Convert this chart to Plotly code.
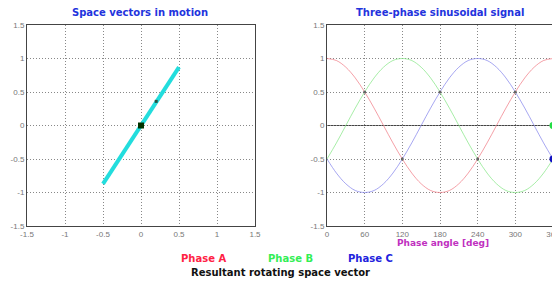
import plotly.graph_objects as go

# Space-vector panel
vec_x = [-0.5, 0.5]
vec_y = [-0.87, 0.87]
origin_x = [0]
origin_y = [0]
tip_x = [0.2]
tip_y = [0.36]

# Three-phase sinusoidal panel
angle = [0, 15, 30, 45, 60, 75, 90, 105, 120, 135, 150, 165, 180,
         195, 210, 225, 240, 255, 270, 285, 300, 315, 330, 345, 360]
phase_a = [1, 0.97, 0.87, 0.71, 0.5, 0.26, 0, -0.26, -0.5, -0.71, -0.87, -0.97, -1,
           -0.97, -0.87, -0.71, -0.5, -0.26, 0, 0.26, 0.5, 0.71, 0.87, 0.97, 1]
phase_b = [-0.5, -0.26, 0, 0.26, 0.5, 0.71, 0.87, 0.97, 1, 0.97, 0.87, 0.71, 0.5,
           0.26, 0, -0.26, -0.5, -0.71, -0.87, -0.97, -1, -0.97, -0.87, -0.71, -0.5]
phase_c = [-0.5, -0.71, -0.87, -0.97, -1, -0.97, -0.87, -0.71, -0.5, -0.26, 0, 0.26, 0.5,
           0.71, 0.87, 0.97, 1, 0.97, 0.87, 0.71, 0.5, 0.26, 0, -0.26, -0.5]
cross_x = [60, 180, 300, 120, 240]
cross_y = [0.5, 0.5, 0.5, -0.5, -0.5]
end_x = [360, 360]
end_y = [0, -0.5]
end_colors = ["#22dd44", "#1010c0"]

left_ticks = [-1.5, -1, -0.5, 0, 0.5, 1, 1.5]
left_ticktext = ["-1.5", "-1", "-0.5", "0", "0.5", "1", "1.5"]
angle_ticks = [0, 60, 120, 180, 240, 300, 360]

# page body has an 8px margin; figure is sized to fit the window
OFF = 8
W, H = 560 - OFF, 284 - OFF


def px(x):
    return (x - OFF) / W


def py(y):
    return 1 - (y - OFF) / H


fig = go.Figure()

fig.add_trace(go.Scatter(x=vec_x, y=vec_y, mode="lines",
                         line=dict(color="#22dddd", width=4),
                         xaxis="x", yaxis="y", showlegend=False))
fig.add_trace(go.Scatter(x=tip_x, y=tip_y, mode="markers",
                         marker=dict(color="#225544", size=3, symbol="square"),
                         xaxis="x", yaxis="y", showlegend=False))
fig.add_trace(go.Scatter(x=origin_x, y=origin_y, mode="markers",
                         marker=dict(color="#003300", size=6, symbol="square"),
                         xaxis="x", yaxis="y", showlegend=False))

fig.add_trace(go.Scatter(x=angle, y=phase_a, mode="lines", line_shape="spline",
                         line=dict(color="rgba(240,120,130,0.7)", width=1),
                         xaxis="x2", yaxis="y2", showlegend=False))
fig.add_trace(go.Scatter(x=angle, y=phase_b, mode="lines", line_shape="spline",
                         line=dict(color="rgba(130,230,130,0.7)", width=1),
                         xaxis="x2", yaxis="y2", showlegend=False))
fig.add_trace(go.Scatter(x=angle, y=phase_c, mode="lines", line_shape="spline",
                         line=dict(color="rgba(130,130,235,0.7)", width=1),
                         xaxis="x2", yaxis="y2", showlegend=False))
fig.add_trace(go.Scatter(x=cross_x, y=cross_y, mode="markers",
                         marker=dict(color="#666666", size=3),
                         xaxis="x2", yaxis="y2", showlegend=False))
fig.add_trace(go.Scatter(x=end_x, y=end_y, mode="markers", cliponaxis=False,
                         marker=dict(color=end_colors, size=7),
                         xaxis="x2", yaxis="y2", showlegend=False))

axis_common = dict(showgrid=True, gridcolor="#888888", griddash="1px,2px", gridwidth=1,
                   showline=True, linecolor="#444444", linewidth=1, mirror=True,
                   ticks="", tickfont=dict(family="Liberation Sans", size=8, color="#777777"),
                   zeroline=False, automargin=False, ticklabeloverflow="allow")

ydom = [py(226), py(25)]
fig.update_layout(
    width=W, height=H,
    margin=dict(l=0, r=0, t=0, b=0),
    paper_bgcolor="white", plot_bgcolor="white",
    xaxis=dict(domain=[px(27), px(255)], range=[-1.5, 1.5], tickvals=left_ticks,
               ticktext=left_ticktext, anchor="y", **axis_common),
    yaxis=dict(domain=ydom, range=[-1.5, 1.5], tickvals=left_ticks,
               ticktext=left_ticktext, anchor="x", **axis_common),
    xaxis2=dict(domain=[px(327), px(553)], range=[0, 360], tickvals=angle_ticks,
                anchor="y2", **axis_common),
    yaxis2=dict(domain=ydom, range=[-1.5, 1.5], tickvals=left_ticks,
                ticktext=left_ticktext, anchor="x2", **axis_common),
    shapes=[dict(type="line", xref="x2", yref="y2", x0=0, x1=360, y0=0, y1=0,
                 line=dict(color="#444444", width=1), layer="below")],
)

font_name = "DejaVu Sans"
ann = [
    dict(text="<b>Space vectors in motion</b>", x=140, y=13, color="#2233dd", size=10),
    dict(text="<b>Three-phase sinusoidal signal</b>", x=440, y=13, color="#2233dd", size=10),
    dict(text="<b>Phase angle [deg]</b>", x=443, y=243, color="#c030c0", size=9),
    dict(text="<b>Phase A</b>", x=203, y=258, color="#ff2244", size=10),
    dict(text="<b>Phase B</b>", x=291, y=258, color="#33ee55", size=10),
    dict(text="<b>Phase C</b>", x=370, y=258, color="#2222dd", size=10),
    dict(text="<b>Resultant rotating space vector</b>", x=280, y=272, color="#111111", size=10),
]
for a in ann:
    fig.add_annotation(text=a["text"], xref="paper", yref="paper",
                       x=px(a["x"]), y=py(a["y"]), xanchor="center", yanchor="middle",
                       showarrow=False, font=dict(family=font_name, size=a["size"], color=a["color"]))

fig.write_html("out.html")
